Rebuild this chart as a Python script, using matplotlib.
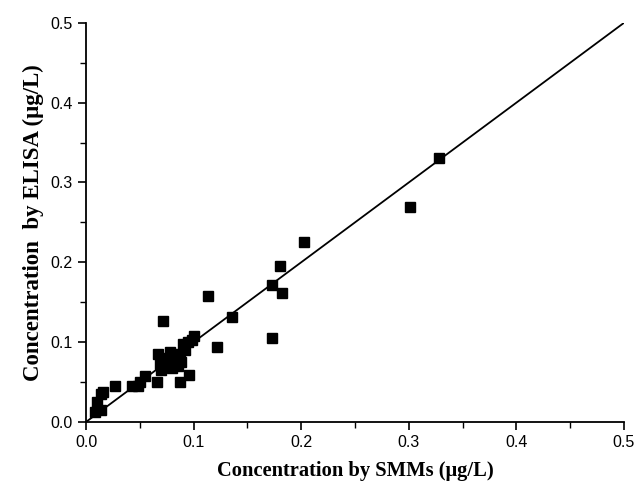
import matplotlib
matplotlib.use("Agg")
import matplotlib.pyplot as plt
from matplotlib.ticker import MultipleLocator

# SMMs vs ELISA (ug/L)
smms = [0.328, 0.301, 0.203, 0.180, 0.173, 0.182, 0.173, 0.136, 0.113, 0.122,
        0.071, 0.100, 0.098, 0.095, 0.090, 0.092,
        0.067, 0.070, 0.078, 0.083, 0.087, 0.075, 0.069, 0.070, 0.085, 0.088, 0.080,
        0.066, 0.087, 0.096, 0.055, 0.050, 0.048, 0.043,
        0.027, 0.016, 0.014, 0.010, 0.014, 0.008]
elisa = [0.331, 0.269, 0.225, 0.195, 0.171, 0.161, 0.105, 0.131, 0.158, 0.094,
         0.127, 0.107, 0.103, 0.100, 0.097, 0.090,
         0.085, 0.080, 0.088, 0.083, 0.085, 0.075, 0.072, 0.065, 0.070, 0.075, 0.068,
         0.050, 0.050, 0.059, 0.058, 0.050, 0.045, 0.045,
         0.045, 0.037, 0.035, 0.025, 0.015, 0.012]
line_x = [0.0, 0.5]
line_y = [0.0, 0.5]

fig = plt.figure(figsize=(6.38, 4.86), dpi=100)
ax = fig.add_axes([0.135, 0.132, 0.843, 0.821])

ax.plot(line_x, line_y, color='black', lw=1.3)
ax.plot(smms, elisa, 's', color='black', ms=7, clip_on=False)

ax.set_xlim(0, 0.5)
ax.set_ylim(0, 0.5)
ax.xaxis.set_major_locator(MultipleLocator(0.1))
ax.yaxis.set_major_locator(MultipleLocator(0.1))
ax.xaxis.set_minor_locator(MultipleLocator(0.05))
ax.yaxis.set_minor_locator(MultipleLocator(0.05))

for s in ['top', 'right']:
    ax.spines[s].set_visible(False)
for s in ['left', 'bottom']:
    ax.spines[s].set_linewidth(1.3)

ax.tick_params(which='major', direction='out', length=6, width=1.2,
               labelsize=11.5)
ax.tick_params(which='minor', direction='out', length=4, width=1.0)
for lab in ax.get_xticklabels() + ax.get_yticklabels():
    lab.set_fontfamily('Liberation Sans')

ax.set_xlabel('Concentration by SMMs (\u03bcg/L)', fontsize=14.8, fontweight='bold',
              family='Liberation Serif', labelpad=8)
ax.set_ylabel('Concentration  by ELISA (\u03bcg/L)', fontsize=16.5, fontweight='bold',
              family='Liberation Serif', labelpad=5)

fig.savefig('out.png', dpi=100)
